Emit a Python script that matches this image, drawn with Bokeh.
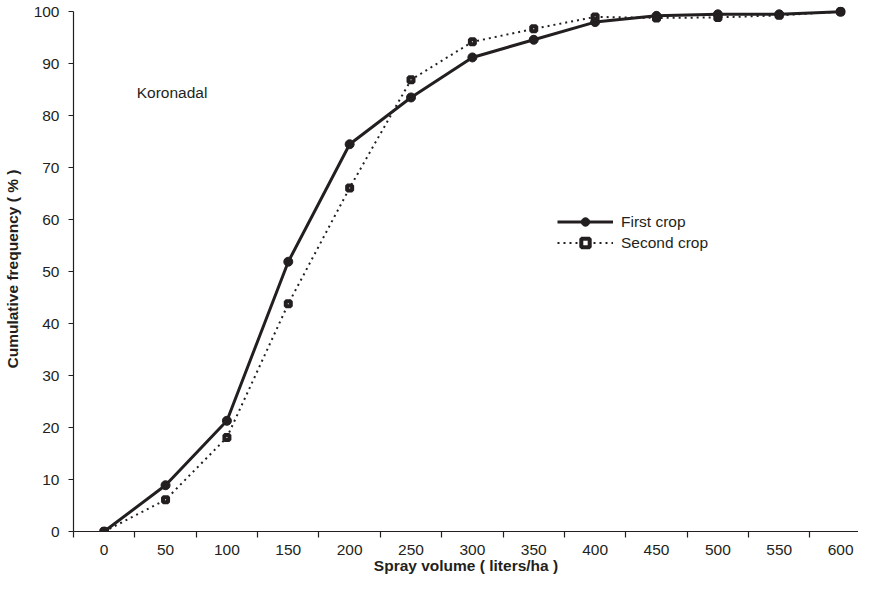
from bokeh.plotting import figure
from bokeh.models import Range1d, FixedTicker, Label, Legend, LegendItem
from bokeh.embed import file_html
from bokeh.resources import INLINE

volume = [0, 50, 100, 150, 200, 250, 300, 350, 400, 450, 500, 550, 600]
first_crop = [0, 8.9, 21.3, 51.9, 74.5, 83.5, 91.2, 94.6, 98.0, 99.2, 99.5, 99.5, 100]
second_crop = [0, 6.1, 18.1, 43.8, 66.1, 86.9, 94.2, 96.7, 99.0, 98.8, 98.9, 99.3, 100]
x_ticks = list(range(0, 601, 50))
x_bounds_ticks = list(range(-25, 626, 50))
y_ticks = list(range(0, 101, 10))

INK = "#231f20"
FONT = "Liberation Sans"
FS = "15.5px"

p = figure(width=858, height=576, output_backend="svg", toolbar_location=None,
           x_range=Range1d(-25, 614.6), y_range=Range1d(0, 101),
           min_border_left=69, min_border_right=0, min_border_top=6, min_border_bottom=10)
p.outline_line_color = None
p.xgrid.grid_line_color = None
p.ygrid.grid_line_color = None
p.background_fill_color = "white"

dot_line = p.line(volume, second_crop, line_color=INK, line_width=2, line_dash="2 4")
sq = p.scatter(volume, second_crop, marker="square", size=5, fill_color="white",
               line_color=INK, line_width=4)
solid_line = p.line(volume, first_crop, line_color=INK, line_width=3)
circ = p.scatter(volume, first_crop, marker="circle", size=9, fill_color=INK,
                 line_color=INK, line_width=1)

xa = p.xaxis[0]
xa.ticker = FixedTicker(ticks=x_ticks, minor_ticks=x_bounds_ticks)
xa.major_tick_out = 0
xa.major_tick_in = 0
xa.minor_tick_out = 6
xa.minor_tick_in = 0
xa.minor_tick_line_color = INK
xa.minor_tick_line_width = 1.2
xa.axis_line_color = INK
xa.axis_line_width = 1.2
xa.major_label_standoff = 7
xa.major_label_text_font = FONT
xa.major_label_text_font_size = FS
xa.major_label_text_color = INK
xa.axis_label = "Spray volume ( liters/ha )"
xa.axis_label_text_font = FONT
xa.axis_label_text_font_size = FS
xa.axis_label_text_font_style = "bold"
xa.axis_label_text_color = INK
xa.axis_label_standoff = -1

ya = p.yaxis[0]
ya.ticker = FixedTicker(ticks=y_ticks)
ya.bounds = (0, 100)
ya.major_tick_out = 5
ya.major_tick_in = 0
ya.minor_tick_out = 0
ya.minor_tick_in = 0
ya.major_tick_line_color = INK
ya.major_tick_line_width = 1.2
ya.axis_line_color = INK
ya.axis_line_width = 1.2
ya.major_label_standoff = 9
ya.major_label_text_font = FONT
ya.major_label_text_font_size = FS
ya.major_label_text_color = INK
ya.axis_label = "Cumulative frequency ( % )"
ya.axis_label_text_font = FONT
ya.axis_label_text_font_size = FS
ya.axis_label_text_font_style = "bold"
ya.axis_label_text_color = INK
ya.axis_label_standoff = 10

p.add_layout(Label(x=26.5, y=84.5, text="Koronadal", text_font=FONT,
                   text_font_size=FS, text_color=INK, text_baseline="middle"))

legend = Legend(items=[LegendItem(label="First crop", renderers=[solid_line, circ]),
                       LegendItem(label="Second crop", renderers=[dot_line, sq])],
                location=(484, 278), orientation="vertical",
                glyph_width=56, glyph_height=21, label_height=21, label_standoff=8,
                spacing=0, padding=0, margin=0,
                border_line_color=None, background_fill_alpha=0,
                label_text_font=FONT, label_text_font_size=FS, label_text_color=INK)
p.add_layout(legend)

open("out.html", "w").write(file_html(p, INLINE))
